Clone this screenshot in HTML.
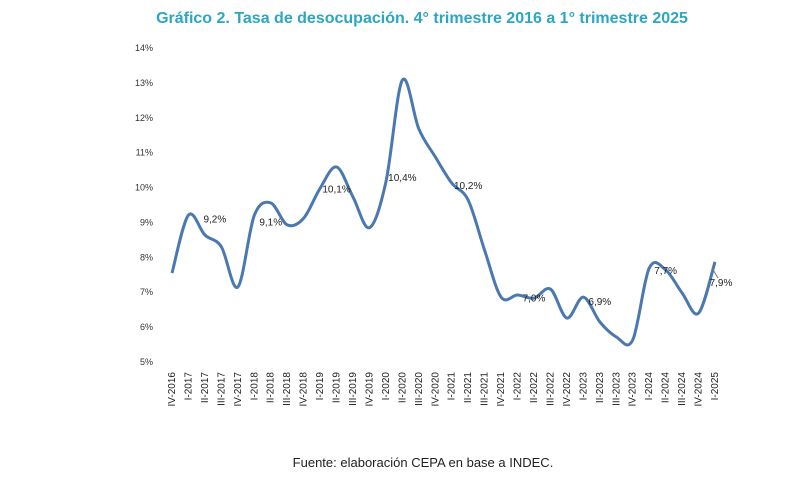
<!DOCTYPE html>
<html><head><meta charset="utf-8"><style>
body{margin:0;background:#fff;width:800px;height:480px;overflow:hidden;font-family:"Liberation Sans",sans-serif}
</style></head><body>
<svg width="800" height="480">
<text x="422" y="23" text-anchor="middle" font-size="16" font-weight="bold" fill="#2ba6c4">Gráfico 2. Tasa de desocupación. 4° trimestre 2016 a 1° trimestre 2025</text>
<g id="yticks"></g><g id="xticks"></g>
<path id="line" fill="none" stroke="#4a78b0" stroke-width="3"/>
<g id="labels"></g>
<line x1="712" y1="268" x2="718" y2="278" stroke="#777" stroke-width="1"/>
<text x="423" y="467" text-anchor="middle" font-size="13" fill="#222">Fuente: elaboración CEPA en base a INDEC.</text>
</svg>
<script>
const categories=["IV-2016","I-2017","II-2017","III-2017","IV-2017","I-2018","II-2018","III-2018","IV-2018","I-2019","II-2019","III-2019","IV-2019","I-2020","II-2020","III-2020","IV-2020","I-2021","II-2021","III-2021","IV-2021","I-2022","II-2022","III-2022","IV-2022","I-2023","II-2023","III-2023","IV-2023","I-2024","II-2024","III-2024","IV-2024","I-2025"];
const values=[7.55,9.21,8.64,8.3,7.15,9.2,9.56,8.93,9.12,9.98,10.59,9.73,8.85,10.16,13.08,11.68,10.88,10.13,9.64,8.2,6.86,6.92,6.83,7.09,6.26,6.86,6.15,5.72,5.63,7.69,7.64,6.98,6.4,7.87];
const yTicks=[5,6,7,8,9,10,11,12,13,14];
const labelIdx=[1,6,10,14,18,22,26,30,33];
const labelText=["9,2%","9,1%","10,1%","10,4%","10,2%","7,0%","6,9%","7,7%","7,9%"];
const labelVal=[9.12,9.03,9.98,10.3,10.07,6.85,6.75,7.64,7.3];
const ns="http://www.w3.org/2000/svg";
const x=i=>172+i*(715-172)/(categories.length-1);
const y=v=>362-(v-5)*(362-48)/9;
const yg=document.getElementById('yticks');
yTicks.forEach(t=>{const e=document.createElementNS(ns,'text');
e.setAttribute('x',153);e.setAttribute('y',y(t)+3);e.setAttribute('text-anchor','end');e.setAttribute('font-size','9');e.setAttribute('fill','#333');e.textContent=t+'%';


yg.appendChild(e);});
const xg=document.getElementById('xticks');
categories.forEach((c,i)=>{const e=document.createElementNS(ns,'text');
e.setAttribute('transform',`translate(${x(i)+3},372) rotate(-90)`);e.setAttribute('text-anchor','end');e.setAttribute('font-size','10');e.setAttribute('fill','#222');e.textContent=c;


xg.appendChild(e);});
const P=values.map((v,i)=>[x(i),y(v)]);
let d=`M${P[0][0]},${P[0][1]}`;
for(let i=0;i<P.length-1;i++){const p0=P[Math.max(i-1,0)],p1=P[i],p2=P[i+1],p3=P[Math.min(i+2,P.length-1)];
const c1=[p1[0]+(p2[0]-p0[0])/6,p1[1]+(p2[1]-p0[1])/6],c2=[p2[0]-(p3[0]-p1[0])/6,p2[1]-(p3[1]-p1[1])/6];
d+=` C${c1[0]},${c1[1]} ${c2[0]},${c2[1]} ${p2[0]},${p2[1]}`;}
document.getElementById('line').setAttribute('d',d);
const lg=document.getElementById('labels');
labelIdx.forEach((idx,k)=>{const e=document.createElementNS(ns,'text');
e.setAttribute('x',x(idx)+(k===0?15:(k===8?6:0)));e.setAttribute('y',y(labelVal[k])+4);e.setAttribute('text-anchor',k===0?'start':'middle');e.setAttribute('font-size','10');e.setAttribute('fill','#222');e.textContent=labelText[k];


lg.appendChild(e);});
</script>
</body></html>
